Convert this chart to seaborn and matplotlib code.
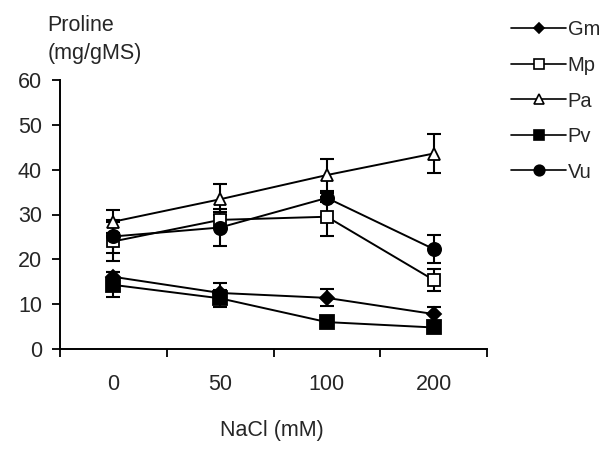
import matplotlib
matplotlib.use("Agg")
import matplotlib.pyplot as plt
import seaborn as sns
import pandas as pd
from matplotlib.lines import Line2D

nacl = ["0", "50", "100", "200"]
species = ["Gm", "Mp", "Pa", "Pv", "Vu"]
gm = [16.1, 12.5, 11.4, 7.8]
mp = [24.0, 28.8, 29.5, 15.4]
pa = [28.4, 33.4, 38.8, 43.6]
pv = [14.3, 11.3, 6.0, 4.8]
vu = [25.1, 27.1, 33.7, 22.3]
gm_err = [1.0, 2.3, 1.9, 1.5]
mp_err = [4.3, 1.8, 4.4, 2.5]
pa_err = [2.6, 3.4, 3.6, 4.3]
pv_err = [2.8, 1.9, 0.7, 0.8]
vu_err = [3.6, 4.1, 1.0, 3.2]

values = [gm, mp, pa, pv, vu]
errors = [gm_err, mp_err, pa_err, pv_err, vu_err]

rows = []
for sp, vals, errs in zip(species, values, errors):
    for c, v, e in zip(nacl, vals, errs):
        rows.append({"NaCl": c, "species": sp, "proline": v, "err": e})
df = pd.DataFrame(rows)

sns.set_theme(style="ticks")
plt.rcParams["font.family"] = ["Liberation Sans", "DejaVu Sans"]

FS = 15.5
LFS = 14.5
markers = {"Gm": "D", "Mp": "s", "Pa": "^", "Pv": "s", "Vu": "o"}
faces = {"Gm": "black", "Mp": "white", "Pa": "white", "Pv": "black", "Vu": "black"}
msize = {"Gm": 7, "Mp": 8.5, "Pa": 8.5, "Pv": 9.5, "Vu": 9.5}

fig = plt.figure(figsize=(6.15, 4.7), dpi=100)
ax = fig.add_axes([60/615, 1-349/470, 427/615, 269/470])

for sp in species:
    sub = df[df.species == sp]
    xpos = [nacl.index(c) for c in sub["NaCl"]]
    ax.errorbar(xpos, sub["proline"], yerr=sub["err"], fmt="none",
                ecolor="black", elinewidth=1.5, capsize=4.8, capthick=1.5, zorder=2)

for sp in species:
    sub = df[df.species == sp]
    sns.lineplot(data=sub, x="NaCl", y="proline", ax=ax, color="black",
                 linewidth=1.4, marker=markers[sp], markersize=msize[sp],
                 markerfacecolor=faces[sp], markeredgecolor="black",
                 markeredgewidth=1.3, legend=False, zorder=3, sort=False)

ax.set_xlim(-0.5, 3.5)
ax.set_ylim(0, 60)
ax.set_yticks([0, 10, 20, 30, 40, 50, 60])
ax.set_xticks(range(len(nacl)))
ax.set_xticklabels(nacl)
ax.set_xticks([-0.5, 0.5, 1.5, 2.5, 3.5], minor=True)
ax.tick_params(axis="x", which="major", length=0, pad=18, labelsize=FS)
ax.tick_params(axis="x", which="minor", length=6, width=1.3, color="black", direction="out")
ax.tick_params(axis="y", length=6, width=1.3, color="black", pad=7, labelsize=FS)
for s in ["top", "right"]:
    ax.spines[s].set_visible(False)
for s in ["left", "bottom"]:
    ax.spines[s].set_color("black")
    ax.spines[s].set_linewidth(1.4)

ax.set_xlabel("NaCl (mM)", fontsize=FS)
ax.xaxis.set_label_coords(0.497, -0.265)
ax.set_ylabel("Proline\n(mg/gMS)", rotation=0, ha="left", va="bottom",
              fontsize=FS, linespacing=1.45)
ax.yaxis.set_label_coords(-0.03, 1.06)

handles = [Line2D([0], [0], color="black", linewidth=1.2, marker=markers[sp],
                  markersize=msize[sp] * 0.8, markerfacecolor=faces[sp],
                  markeredgecolor="black", markeredgewidth=1.2) for sp in species]
fig.legend(handles, species, loc="upper left", bbox_to_anchor=(0.802, 0.995),
           frameon=False, fontsize=LFS, handlelength=2.7, labelspacing=0.82,
           handletextpad=0.1)

fig.savefig("out.png", dpi=100)
